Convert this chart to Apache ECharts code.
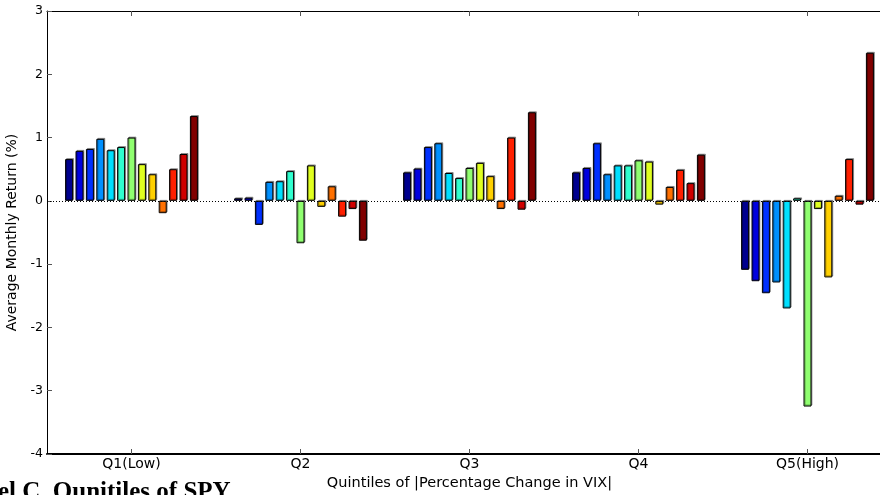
<!DOCTYPE html>
<html>
<head>
<meta charset="utf-8">
<script src="https://cdn.jsdelivr.net/npm/echarts@6/dist/echarts.min.js"></script>
<style>html,body{margin:0;padding:0;background:#fff;overflow:hidden;}#c{width:880px;height:495px;}</style>
</head>
<body>
<div id="c"></div>
<script>
var categories = ['Q1(Low)', 'Q2', 'Q3', 'Q4', 'Q5(High)'];
var yTicks = [-4, -3, -2, -1, 0, 1, 2, 3];
var xTitle = 'Quintiles of |Percentage Change in VIX|';
var yTitle = 'Average Monthly Return (%)';
var footText = 'el C. Qunitiles of SPY';
// one array per bar position within the group (13 bars), values per quintile
var s1  = [0.66, 0.04, 0.45, 0.45, -1.09];
var s2  = [0.79, 0.05, 0.51, 0.52, -1.27];
var s3  = [0.82, -0.38, 0.85, 0.91, -1.46];
var s4  = [0.98, 0.30, 0.91, 0.42, -1.29];
var s5  = [0.80, 0.31, 0.44, 0.56, -1.70];
var s6  = [0.85, 0.47, 0.36, 0.56, 0.04];
var s7  = [1.00, -0.67, 0.52, 0.64, -3.25];
var s8  = [0.58, 0.56, 0.60, 0.62, -0.13];
var s9  = [0.42, -0.095, 0.39, -0.06, -1.21];
var s10 = [-0.195, 0.23, -0.13, 0.22, 0.08];
var s11 = [0.50, -0.25, 1.00, 0.49, 0.66];
var s12 = [0.74, -0.13, -0.14, 0.28, -0.06];
var s13 = [1.34, -0.63, 1.40, 0.73, 2.34];
var seriesValues = [s1, s2, s3, s4, s5, s6, s7, s8, s9, s10, s11, s12, s13];
var colors = ['#00008F', '#0000DF', '#0030FF', '#0090FF', '#00E0FF', '#30FFCF', '#90FF70',
              '#E0FF20', '#FFD000', '#FF7000', '#FF2000', '#D00000', '#800000'];

var chart = echarts.init(document.getElementById('c'), null, {renderer: 'canvas'});
var font = 'DejaVu Sans';
var series = seriesValues.map(function (vals, i) {
  return {
    type: 'bar',
    data: vals,
    barWidth: 8,
    barGap: '30%',
    z: 3,
    itemStyle: {
      color: colors[i],
      borderColor: '#000',
      borderWidth: 1,
      shadowColor: 'rgba(0,0,0,0.35)',
      shadowOffsetX: 1,
      shadowOffsetY: -1,
      shadowBlur: 0
    },
    animation: false
  };
});
series.push({
  type: 'line',
  data: [],
  z: 1,
  markLine: {
    silent: true,
    symbol: ['none', 'none'],
    label: {show: false},
    lineStyle: {color: '#000', type: [1, 2], width: 1},
    data: [{yAxis: 0}]
  },
  animation: false
});

chart.setOption({
  animation: false,
  backgroundColor: '#fff',
  grid: {left: 47, width: 845, top: 11, height: 443, containLabel: false, outerBoundsMode: 'none'},
  xAxis: [{
    type: 'category',
    data: categories,
    position: 'bottom',
    boundaryGap: true,
    axisLine: {show: true, onZero: false, lineStyle: {color: '#000', width: 2}},
    axisTick: {show: true, inside: true, alignWithLabel: true, length: 5, lineStyle: {color: '#555'}},
    axisLabel: {color: '#000', fontFamily: font, fontSize: 14, margin: 3},
    name: xTitle,
    nameLocation: 'middle',
    nameGap: 17,
    nameTextStyle: {color: '#000', fontFamily: font, fontSize: 14.5, verticalAlign: 'top'},
    splitLine: {show: false}
  }, {
    type: 'category',
    data: categories,
    position: 'top',
    boundaryGap: true,
    axisLine: {show: true, onZero: false, lineStyle: {color: '#000', width: 1}},
    axisTick: {show: true, inside: true, alignWithLabel: true, length: 5, lineStyle: {color: '#555'}},
    axisLabel: {show: false},
    splitLine: {show: false}
  }],
  yAxis: {
    type: 'value',
    min: yTicks[0],
    max: yTicks[yTicks.length - 1],
    interval: 1,
    axisLine: {show: true, onZero: false, lineStyle: {color: '#000', width: 1}},
    axisTick: {show: true, inside: true, length: 5, lineStyle: {color: '#555'}},
    axisLabel: {color: '#000', fontFamily: font, fontSize: 12.5, margin: 4},
    splitLine: {show: false},
    name: yTitle,
    nameLocation: 'middle',
    nameGap: 22,
    nameTextStyle: {color: '#000', fontFamily: font, fontSize: 14}
  },
  series: series,
  graphic: [{
    type: 'text',
    left: -2,
    top: 480,
    style: {
      text: footText,
      font: 'bold 25px "Liberation Serif"',
      fill: '#000'
    }
  }]
});
</script>
</body>
</html>
